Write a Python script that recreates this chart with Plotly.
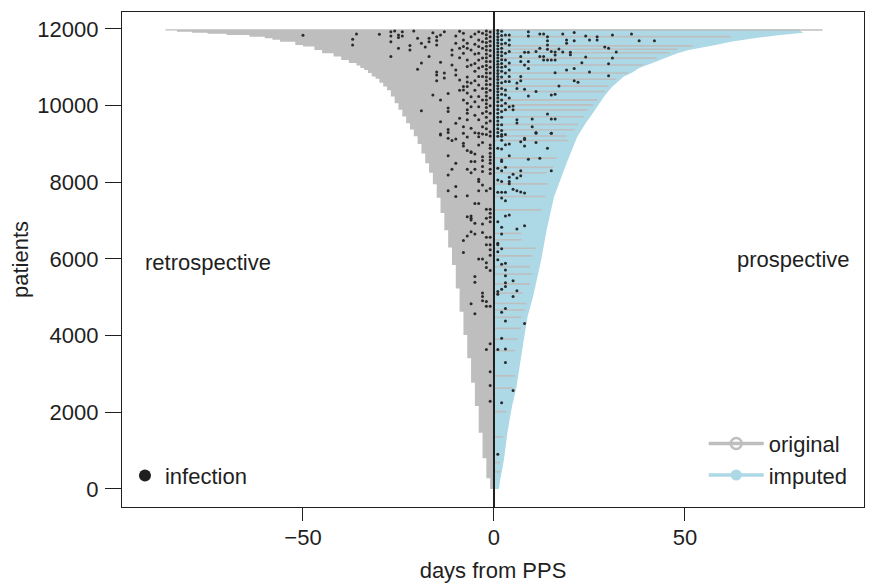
import plotly.graph_objects as go

# ---------------- data ----------------
n_patients = 11990

# retrospective envelope: step start (patient index) and days before PPS
retro_pat = [0, 280, 800, 1470, 2165, 2773, 3410, 4018, 4626, 5230,
             5840, 6300, 6750, 7200, 7600, 7950, 8250, 8500, 8750, 9000,
             9200, 9380, 9540, 9720, 9890, 10060, 10240, 10400, 10500, 10600,
             10700, 10760, 10850, 10930, 10980, 11050, 11110, 11190, 11280, 11370,
             11450, 11540, 11580, 11670, 11720, 11760, 11800, 11845, 11875, 11900,
             11930, 11960]
retro_day = [-1, -2, -3, -4, -5, -6, -7, -8, -9, -10,
             -11, -12, -13, -14, -15, -16, -17, -18, -19, -20,
             -21, -22, -23, -24, -25, -26, -27, -28, -29, -30,
             -31, -32, -33, -34, -35, -36, -38, -40, -42, -45,
             -47, -50, -52, -56, -58, -60, -64, -70, -75, -79,
             -83, -86]

# prospective (imputed) envelope
prosp_pat = [0, 230, 760, 1460, 2150, 2670, 3290, 3890, 4500, 5010,
             5900, 6760, 7620, 8500, 9190, 9540, 9890, 10240, 10500, 10590,
             10760, 10850, 10980, 11110, 11190, 11280, 11370, 11450, 11540, 11580,
             11670, 11760, 11845, 11900, 11960]
prosp_day = [1.3, 1.6, 2.6, 3.5, 4.7, 5.9, 6.8, 7.8, 8.8, 10.2,
             12.2, 13.8, 15.7, 19, 21.8, 24, 26.5, 28.8, 31, 32,
             34, 36, 38, 41.5, 43.5, 46, 48, 51, 56, 58,
             62, 68, 75, 81, 80]

# prospective follow-up that was observed (original)
orig_pat = [11975, 11800, 11560, 11470, 11380, 11240, 11060, 10850, 10690, 10510,
            10370, 10150, 10020, 9890, 9710, 9510, 9370, 9210, 9090, 8630,
            8390, 8250, 7960, 7630, 7280, 6670, 6500, 6280, 6080, 5800,
            5610, 5350, 5110, 4840, 4670, 4480, 4190, 3910, 3610, 2950,
            2630, 2020, 1360, 690, 450]
orig_day = [86, 62, 52, 48, 46, 42.6, 39, 35, 32, 30,
            29, 27, 26, 24.5, 23.5, 22, 21, 19, 19.5, 16.4,
            15.5, 13.8, 14, 13.5, 12.5, 7.2, 7.2, 11, 10, 9.4,
            10, 9.4, 7.6, 8.5, 8, 7.2, 7, 6.3, 5.5, 5.5,
            5, 3.3, 2.4, 1.6, 1.6]

# infections (day relative to PPS, patient index)
infections_retro = [
    (-50, 11837), (-36, 11870), (-37, 11730), (-37, 11584), (-30, 11860), (-27, 11930),
    (-27, 11820), (-27, 11670), (-26, 11950), (-25, 11845), (-25, 11775), (-24, 11930),
    (-24, 11820), (-21, 11950), (-27, 11280), (-25, 11500), (-22, 11570), (-22, 11450),
    (-20, 11760), (-19, 11630), (-19, 11110), (-20, 10950), (-18, 11530), (-17, 11760),
    (-17, 11670), (-17, 11280), (-16, 11900), (-15, 11800), (-15, 11700), (-15, 11580),
    (-14, 11130), (-14, 11845), (-13, 11930), (-15, 10880), (-15, 10800), (-15, 10650),
    (-16, 10280), (-19, 9870), (-14, 10150), (-14, 9580), (-14, 9235), (-12, 9940),
    (-12, 9845), (-13, 10850), (-13, 10720), (-12, 10320), (-11, 11450), (-11, 11320),
    (-11, 11060), (-10, 11820), (-10, 11630), (-10, 10930), (-10, 10800), (-9, 10670),
    (-9, 9670), (-8, 11890), (-8, 11710), (-8, 11540), (-8, 11370), (-8, 10500),
    (-8, 10410), (-8, 10150), (-7, 11630), (-7, 11500), (-7, 11190), (-7, 11020),
    (-7, 10750), (-7, 10620), (-7, 10500), (-7, 10330), (-7, 10060), (-7, 9890),
    (-7, 9630), (-6, 11800), (-6, 11450), (-6, 11060), (-6, 10590), (-6, 10230),
    (-9, 11940), (-9, 11500), (-9, 11250), (-9, 10400),
    (-5, 11870), (-5, 11600), (-5, 11350), (-5, 11100), (-5, 10900), (-5, 10650),
    (-5, 10400), (-5, 10100), (-5, 9750),
    (-4, 11930), (-4, 11710), (-4, 11540), (-4, 11370), (-4, 11190), (-4, 10980),
    (-4, 10760), (-4, 10540), (-4, 10240), (-4, 9970), (-4, 9630), (-4, 9280),
    (-3, 11890), (-3, 11670), (-3, 11500), (-3, 11240), (-3, 11020), (-3, 10760),
    (-3, 10450), (-3, 10150), (-3, 9800), (-3, 9450),
    (-2, 11950), (-2, 11850), (-2, 11750), (-2, 11650), (-2, 11550), (-2, 11450),
    (-2, 11350), (-2, 11250), (-2, 11150), (-2, 11050), (-2, 10950), (-2, 10850),
    (-2, 10750), (-2, 10650), (-2, 10550), (-2, 10450), (-2, 10350), (-2, 10250),
    (-2, 10150), (-2, 10050), (-2, 9950), (-2, 9850), (-2, 9700), (-2, 9550),
    (-2, 9400), (-2, 9250),
    (-1, 11920), (-1, 11800), (-1, 11680), (-1, 11560), (-1, 11440), (-1, 11300),
    (-1, 11150), (-1, 11000), (-1, 10850), (-1, 10700), (-1, 10550), (-1, 10400),
    (-1, 10200), (-1, 10000), (-1, 9800), (-1, 9600),
    (-14, 9260), (-12, 9300), (-12, 9150), (-11, 9090), (-10, 9130), (-8, 9020),
    (-8, 8950), (-7, 9180), (-7, 8830), (-6, 8780), (-5, 8740), (-5, 9290),
    (-4, 9190), (-3, 9260), (-4, 8975), (-3, 9040), (-3, 8670), (-3, 8570),
    (-3, 8410), (-3, 8280), (-5, 8540), (-6, 8540), (-5, 8340), (-7, 8340),
    (-6, 8250), (-12, 8690), (-10, 8500), (-11, 8340), (-12, 8190), (-4, 8080),
    (-4, 8020), (-3, 7930), (-2, 7780), (-12, 7780), (-10, 7890), (-10, 7630),
    (-7, 7650), (-4, 7780), (-5, 7450), (-4, 7450), (-2, 7300), (-7, 7100),
    (-6, 7120), (-6, 7060), (-6, 7020), (-2, 7060), (-5, 6930), (-3, 6910),
    (-6, 6710), (-7, 6600), (-5, 6650), (-3, 6690), (-2, 6570), (-8, 6480),
    (-2, 6370), (-8, 6170), (-4, 6000), (-3, 6000), (-2, 5900), (-2, 5780),
    (-5, 5540), (-5, 5390), (-3, 5110), (-3, 5020), (-3, 4910), (-2, 4890),
    (-2, 4770), (-6, 4830), (-5, 4570), (-10, 9540), (-8, 9450), (-8, 9280),
    (-7, 9800), (-6, 9970), (-6, 9410), (-6, 8800), (-12, 9380),
    (-1, 9320), (-1, 9210), (-1, 8975), (-1, 8890), (-1, 8760), (-1, 8670),
    (-1, 8580), (-1, 8500), (-1, 8340), (-1, 8230), (-1, 7840), (-1, 7300),
    (-1, 7190), (-1, 7090), (-1, 6970), (-1, 6570), (-1, 6370), (-1, 6240),
    (-1, 6100), (-1, 5700), (-1, 4770), (-1, 3790), (-2, 3640), (-1, 3060),
    (-1, 2700), (-1, 2290),
]
infections_prosp = [
    (9, 11930), (9, 11820), (12, 11870), (13, 11870), (14, 11800), (14, 11690),
    (18, 11870), (21, 11910), (19, 11710), (19, 11630), (21, 11690), (24, 11820),
    (25, 11710), (27, 11800), (27, 11710), (31, 11845), (36, 11870), (38, 11690),
    (42, 11690), (29, 11530), (30, 11500), (32, 11400), (31, 11240), (30, 11090),
    (30, 10780), (24, 11270), (23, 11120), (25, 10880), (21, 10970), (19, 10930),
    (16, 10860), (21, 10650), (22, 10610), (20, 11390), (20, 11330), (18, 11400),
    (17, 11480), (16, 11400), (15, 11410), (16, 11320), (14, 11580), (14, 11470),
    (12, 11500), (11, 11410), (12, 11280), (13, 11280), (13, 11190), (14, 11190),
    (15, 11190), (16, 11190), (9, 11390), (8, 11390), (9, 11150), (8, 11060),
    (9, 10970), (7, 11280), (7, 11150), (7, 10760), (7, 10650), (6, 10590),
    (6, 10450), (8, 10430), (11, 10370), (9, 10250), (15, 10280), (16, 10300),
    (17, 10510), (14, 9780), (15, 9650), (16, 9650), (10, 9650), (10, 9450),
    (11, 9300), (15, 9280), (8, 9150), (6, 9630), (6, 9550), (5, 9990), (5, 9890),
    (4, 11845), (4, 11710), (4, 11580), (4, 11410), (4, 11110), (4, 10930),
    (4, 10760), (4, 10630), (4, 10200), (4, 9970),
    (3, 11845), (3, 11630), (3, 11370), (3, 11190), (3, 11020), (3, 10850),
    (3, 10630), (3, 10410), (3, 10280), (3, 10060), (3, 9890),
    (2, 11940), (2, 11830), (2, 11720), (2, 11610), (2, 11500), (2, 11400),
    (2, 11300), (2, 11200), (2, 11100), (2, 11000), (2, 10900), (2, 10750),
    (2, 10600), (2, 10450), (2, 10300), (2, 10150), (2, 10000), (2, 9850),
    (2, 9700), (2, 9500), (2, 9350), (2, 9200),
    (1, 11960), (1, 11880), (1, 11800), (1, 11720), (1, 11640), (1, 11560),
    (1, 11480), (1, 11400), (1, 11320), (1, 11240), (1, 11160), (1, 11080),
    (1, 11000), (1, 10920), (1, 10840), (1, 10760), (1, 10680), (1, 10600),
    (1, 10520), (1, 10440), (1, 10360), (1, 10280), (1, 10200), (1, 10100),
    (1, 10000), (1, 9900), (1, 9800), (1, 9700), (1, 9600), (1, 9500),
    (1, 9400), (1, 9300), (1, 9200),
    (2, 9250), (3, 9250), (2, 9100), (3, 8980), (4, 9000), (7, 9060),
    (8, 9120), (8, 8950), (11, 9040), (14, 8890), (11, 9280), (15, 9280),
    (1, 8890), (2, 8870), (4, 8690), (9, 8600), (12, 8630), (2, 8580),
    (2, 8540), (1, 8370), (2, 8300), (3, 8390), (7, 8300), (15, 8300),
    (5, 8210), (4, 8130), (6, 8110), (7, 8170), (1, 8060), (2, 8020),
    (4, 8020), (4, 7960), (5, 7820), (6, 7780), (7, 7750), (8, 7720),
    (1, 7740), (2, 7740), (3, 7740), (2, 7590), (3, 7520), (3, 7120),
    (4, 7150), (8, 6870), (6, 6780), (1, 6970), (2, 6830), (2, 6650),
    (1, 6410), (1, 6370), (2, 6270), (1, 6190), (1, 5980), (2, 5860),
    (3, 5890), (3, 5710), (3, 5560), (5, 5430), (3, 5380), (3, 5280),
    (1, 5150), (1, 5080), (2, 5210), (6, 5170), (5, 5020), (3, 4710),
    (2, 4610), (3, 4380), (8, 4320), (2, 3930), (1, 3640), (3, 3650),
    (3, 3300), (5, 2570), (2, 2250), (1, 905),
]

x_ticks = [-50, 0, 50]
x_tick_labels = ["\u221250", "0", "50"]
y_ticks = [0, 2000, 4000, 6000, 8000, 10000, 12000]
y_tick_labels = ["0", "2000", "4000", "6000", "8000", "10000", "12000"]

GRAY = "#BEBEBE"
BLUE = "#ADD8E6"
INK = "#1f1f1f"
FONT = "Liberation Sans, Arial, Helvetica, sans-serif"
FS = 22

# ---------------- figure ----------------
fig = go.Figure()

# retrospective region (step envelope)
rx = [0] + retro_day + [retro_day[-1], 0]
ry = [0] + retro_pat + [n_patients, n_patients]
fig.add_trace(go.Scatter(x=rx, y=ry, mode="lines", line=dict(width=0, shape="vh"),
                         fill="toself", fillcolor=GRAY, hoverinfo="skip", showlegend=False))

# prospective (imputed) region
px_ = [0] + prosp_day + [prosp_day[-1], 0]
py_ = [0] + prosp_pat + [n_patients, n_patients]
fig.add_trace(go.Scatter(x=px_, y=py_, mode="lines", line=dict(width=0),
                         fill="toself", fillcolor=BLUE, hoverinfo="skip", showlegend=False))

# observed prospective follow-up
lx, ly = [], []
for p, d in zip(orig_pat, orig_day):
    lx += [0, d, None]
    ly += [p, p, None]
fig.add_trace(go.Scatter(x=lx, y=ly, mode="lines", line=dict(color=GRAY, width=1.6),
                         hoverinfo="skip", showlegend=False))

# infections
inf = infections_retro + infections_prosp
fig.add_trace(go.Scatter(x=[d for d, p in inf], y=[p for d, p in inf], mode="markers",
                         marker=dict(color="#2a2a2a", size=3.0, line=dict(width=0)),
                         showlegend=False))

# legend keys
fig.add_trace(go.Scatter(x=[None], y=[None], mode="lines+markers", name="original",
                         line=dict(color=GRAY, width=3.5),
                         marker=dict(symbol="circle-open", size=11, color=GRAY, line=dict(width=2.5)),
                         legend="legend"))
fig.add_trace(go.Scatter(x=[None], y=[None], mode="lines+markers", name="imputed",
                         line=dict(color=BLUE, width=3.5),
                         marker=dict(symbol="circle", size=11, color=BLUE),
                         legend="legend"))
fig.add_trace(go.Scatter(x=[None], y=[None], mode="markers", name="infection",
                         marker=dict(symbol="circle", size=12, color=INK),
                         legend="legend2"))

# PPS line
fig.add_shape(type="line", xref="x", yref="paper", x0=0, x1=0, y0=0, y1=1,
              line=dict(color=INK, width=2), layer="above")

fig.add_annotation(x=-74.9, y=5920, text="retrospective", showarrow=False,
                   font=dict(size=FS, color=INK, family=FONT))
fig.add_annotation(x=78.3, y=5975, text="prospective", showarrow=False,
                   font=dict(size=FS, color=INK, family=FONT))

# the page adds an 8 px body margin, so the figure is 8 px smaller
fig.update_layout(
    width=868, height=575,
    margin=dict(l=114, r=12, t=4, b=76),
    plot_bgcolor="white", paper_bgcolor="white",
    font=dict(family=FONT, size=FS, color=INK),
    legend=dict(x=0.784, xanchor="left", y=0.021, yanchor="bottom", itemwidth=55,
                bgcolor="rgba(0,0,0,0)", font=dict(size=FS), tracegroupgap=0),
    legend2=dict(x=0.004, xanchor="left", y=0.021, yanchor="bottom",
                 bgcolor="rgba(0,0,0,0)", font=dict(size=FS)),
    xaxis=dict(range=[-97.38, 96.86], tickmode="array", tickvals=x_ticks, ticktext=x_tick_labels,
               ticks="outside", ticklen=13, tickwidth=1.3, tickcolor=INK,
               showline=True, mirror=True, linecolor=INK, linewidth=1.3,
               showgrid=False, zeroline=False, automargin=False, ticklabelstandoff=-3,
               title=dict(text="days from PPS", standoff=22, font=dict(size=FS))),
    yaxis=dict(range=[-470, 12443], tickmode="array", tickvals=y_ticks, ticktext=y_tick_labels,
               ticks="outside", ticklen=16, tickwidth=1.3, tickcolor=INK,
               showline=True, mirror=True, linecolor=INK, linewidth=1.3,
               showgrid=False, zeroline=False, automargin=False, ticklabelstandoff=2,
               title=dict(text="patients", standoff=7, font=dict(size=FS))),
)

fig.write_html("out.html")
